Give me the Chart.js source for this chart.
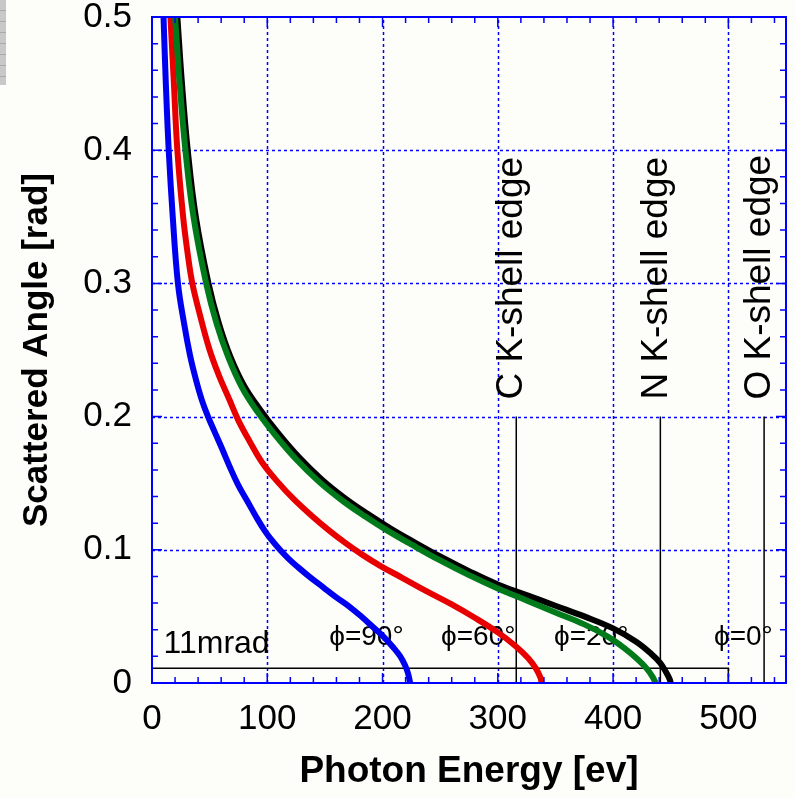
<!DOCTYPE html>
<html>
<head>
<meta charset="utf-8">
<script src="https://cdn.jsdelivr.net/npm/chart.js@4.4.1/dist/chart.umd.min.js"></script>
<style>
  html, body { margin: 0; padding: 0; background: #fdfdfa; }
  #wrap { position: relative; width: 795px; height: 798px; }
  #scrap { position: absolute; left: 0; top: 0; width: 6px; height: 85px;
           background: repeating-linear-gradient(#c8c8c8 0 10px, #a9a9a9 10px 11px); }
</style>
</head>
<body>
<div id="wrap"><canvas id="chart" width="795" height="798"></canvas><div id="scrap"></div></div>
<script>
// photon energy [eV] / scattered angle [rad]
const energy90 = [10, 12, 14.5, 18, 22.5, 27.8, 33, 38.2, 43.4, 48.6, 54.6, 60.7, 67.6, 74.6, 82.4, 90.2, 98, 104.1, 111, 118.8, 126.6, 137, 148.3, 159.6, 171.7, 182.1, 191.7, 201.2, 209, 215.1, 219.4, 222, 224];
const angle90 = [0.5, 0.45, 0.4, 0.35, 0.3, 0.27, 0.246, 0.2275, 0.212, 0.2, 0.188, 0.176, 0.162, 0.149, 0.137, 0.125, 0.114, 0.107, 0.1, 0.093, 0.087, 0.0795, 0.072, 0.0645, 0.057, 0.0495, 0.042, 0.0345, 0.027, 0.0203, 0.0135, 0.0075, 0];

const energy60 = [16, 19, 22, 27, 31, 35, 42, 50, 58, 67, 75, 85, 96, 109, 123, 138, 153, 168, 183, 198, 217, 238, 260, 280, 300, 315, 326, 333, 337, 338];
const angle60 = [0.5, 0.45, 0.4, 0.35, 0.322, 0.3, 0.275, 0.25, 0.231, 0.213, 0.197, 0.181, 0.165, 0.151, 0.138, 0.126, 0.115, 0.105, 0.096, 0.088, 0.079, 0.069, 0.059, 0.049, 0.038, 0.028, 0.019, 0.011, 0.004, 0];

const energy20 = [20, 24, 29, 36, 47, 56, 66, 78, 92, 108, 125, 145, 165, 185, 205, 225, 250, 275, 300, 325, 350, 375, 395, 410, 421, 429, 434, 437];
const angle20 = [0.5, 0.45, 0.4, 0.35, 0.3, 0.27, 0.245, 0.222, 0.203, 0.185, 0.168, 0.151, 0.137, 0.125, 0.114, 0.104, 0.092, 0.081, 0.071, 0.062, 0.053, 0.044, 0.035, 0.026, 0.018, 0.011, 0.005, 0];

const energy0 = [22, 26, 31, 38, 49, 58, 68, 80, 94, 110, 127, 147, 167, 187, 207, 227, 250, 275, 300, 325, 350, 375, 400, 420, 433, 441, 446, 449, 450];
const angle0 = [0.5, 0.45, 0.4, 0.35, 0.3, 0.27, 0.245, 0.223, 0.205, 0.187, 0.17, 0.153, 0.139, 0.127, 0.116, 0.106, 0.095, 0.084, 0.074, 0.066, 0.058, 0.05, 0.041, 0.031, 0.022, 0.015, 0.008, 0.003, 0];

const edgeEnergies = [316, 441, 531];
const edgeLabels = ['C K-shell edge', 'N K-shell edge', 'O K-shell edge'];
const edgeTop = 0.2;

const cutAngle = 0.011;   // 11 mrad
const cutEnergy = 500;

const phiLabels = ['\u03d5=90\u00b0', '\u03d5=60\u00b0', '\u03d5=20\u00b0', '\u03d5=0\u00b0'];
const phiLabelEnergy = [186, 283, 381, 513];

const xTicks = [0, 100, 200, 300, 400, 500];
const yTicks = [0, 0.1, 0.2, 0.3, 0.4, 0.5];

const FONT = "'Liberation Sans', Arial, sans-serif";
const BLUE = '#0000ff';

const pts = (xs, ys) => xs.map((x, i) => ({ x, y: ys[i] }));

function curve(xs, ys, color, order) {
  return {
    data: pts(xs, ys), borderColor: color, borderWidth: 6, pointRadius: 0,
    tension: 0.4, clip: 0, order
  };
}

function thin(data, order) {
  return { data, borderColor: '#000', borderWidth: 1.5, pointRadius: 0, tension: 0, clip: 0, order };
}

const datasets = [
  curve(energy90, angle90, '#0000f0', 2),
  curve(energy60, angle60, '#e80000', 2),
  curve(energy0, angle0, '#000000', 3),
  curve(energy20, angle20, '#007a1a', 1),
  thin([{ x: 0, y: cutAngle }, { x: cutEnergy, y: cutAngle }, { x: cutEnergy, y: 0 }], 5)
];
edgeEnergies.forEach((e) => datasets.push(thin([{ x: e, y: 0 }, { x: e, y: edgeTop }], 5)));

const framePlugin = {
  id: 'frame',
  beforeDatasetsDraw(c) {
    const { ctx, chartArea: a } = c;
    const xs = c.scales.x, ys = c.scales.y;
    ctx.save();
    ctx.strokeStyle = BLUE;
    ctx.lineWidth = 1.5;
    ctx.setLineDash([3, 3]);
    xTicks.slice(1).forEach((v) => {
      const px = Math.round(xs.getPixelForValue(v)) + 0.5;
      ctx.beginPath(); ctx.moveTo(px, a.bottom); ctx.lineTo(px, a.top); ctx.stroke();
    });
    yTicks.slice(1, -1).forEach((v) => {
      const py = Math.round(ys.getPixelForValue(v)) + 0.5;
      ctx.beginPath(); ctx.moveTo(a.left, py); ctx.lineTo(a.right, py); ctx.stroke();
    });

    // labels that the curves run over
    ctx.fillStyle = '#000';
    ctx.textBaseline = 'alphabetic';
    ctx.textAlign = 'left';
    ctx.font = `32px ${FONT}`;
    ctx.fillText('11mrad', xs.getPixelForValue(10), ys.getPixelForValue(0.0225));
    ctx.font = `28px ${FONT}`;
    ctx.textAlign = 'center';
    phiLabels.forEach((t, i) => {
      ctx.fillText(t, xs.getPixelForValue(phiLabelEnergy[i]), ys.getPixelForValue(0.0285));
    });
    ctx.restore();
  },
  afterDatasetsDraw(c) {
    const { ctx, chartArea: a } = c;
    const xs = c.scales.x, ys = c.scales.y;
    ctx.save();
    // inward tick marks on all four sides
    ctx.strokeStyle = BLUE;
    ctx.lineWidth = 1.5;
    for (let v = 0; v <= 550; v += 20) {
      const px = xs.getPixelForValue(v);
      const len = v % 100 === 0 ? 10 : 6;
      ctx.beginPath();
      ctx.moveTo(px, a.bottom); ctx.lineTo(px, a.bottom - len);
      ctx.moveTo(px, a.top); ctx.lineTo(px, a.top + len);
      ctx.stroke();
    }
    for (let i = 0; i <= 25; i++) {
      const py = ys.getPixelForValue(i * 0.02);
      const len = i % 5 === 0 ? 10 : 6;
      ctx.beginPath();
      ctx.moveTo(a.left, py); ctx.lineTo(a.left + len, py);
      ctx.moveTo(a.right, py); ctx.lineTo(a.right - len, py);
      ctx.stroke();
    }
    ctx.lineWidth = 2;
    ctx.strokeRect(a.left, a.top, a.right - a.left, a.bottom - a.top);

    // absorption edge labels
    ctx.fillStyle = '#000';
    ctx.font = `37px ${FONT}`;
    ctx.textAlign = 'left';
    ctx.textBaseline = 'middle';
    edgeEnergies.forEach((e, i) => {
      ctx.save();
      ctx.translate(xs.getPixelForValue(e) - 4, ys.getPixelForValue(edgeTop) - 17);
      ctx.rotate(-Math.PI / 2);
      ctx.fillText(edgeLabels[i], 0, 0);
      ctx.restore();
    });
    ctx.restore();
  }
};

new Chart(document.getElementById('chart'), {
  type: 'line',
  data: { datasets },
  options: {
    responsive: false,
    animation: false,
    layout: { padding: { top: 17, right: 9, left: 0, bottom: 0 } },
    plugins: { legend: { display: false }, tooltip: { enabled: false } },
    scales: {
      x: {
        type: 'linear', min: 0, max: 550,
        afterBuildTicks: (s) => { s.ticks = xTicks.map((v) => ({ value: v })); },
        afterFit: (s) => { s.height = 115; s.paddingLeft = 0; s.paddingRight = 0; },
        grid: { display: false, drawTicks: false },
        border: { display: false },
        ticks: { padding: 15, color: '#000', maxRotation: 0, autoSkip: false, font: { family: FONT, size: 35 } },
        title: { display: true, text: 'Photon Energy [ev]', color: '#000',
                 font: { family: FONT, size: 37, weight: 'bold' }, padding: { top: 0, bottom: 4 } }
      },
      y: {
        type: 'linear', min: 0, max: 0.5,
        afterBuildTicks: (s) => { s.ticks = yTicks.map((v) => ({ value: v })); },
        afterFit: (s) => { s.width = 152; s.paddingTop = 0; s.paddingBottom = 0; },
        grid: { display: false, drawTicks: false },
        border: { display: false },
        ticks: { padding: 20, color: '#000', autoSkip: false, font: { family: FONT, size: 35 },
                 callback: (v) => String(v) },
        title: { display: true, text: 'Scattered Angle [rad]', color: '#000',
                 font: { family: FONT, size: 35, weight: 'bold' }, padding: { top: 16, bottom: 0 } }
      }
    }
  },
  plugins: [framePlugin]
});
</script>
</body>
</html>
